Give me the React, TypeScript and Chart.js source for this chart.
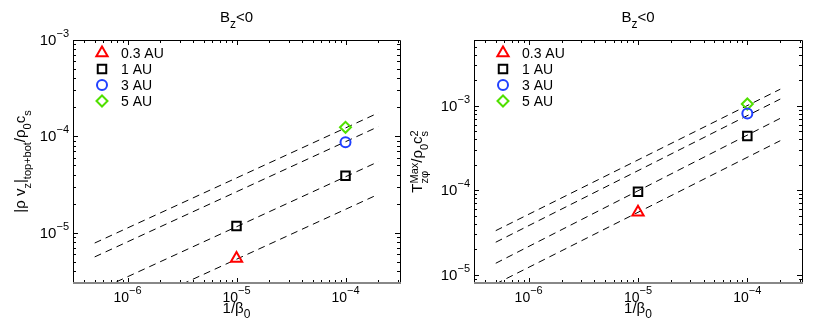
import React, { useEffect, useRef } from 'react';
import { Chart, registerables } from 'chart.js';
import { drawPoint } from 'chart.js/helpers';

Chart.register(...registerables);

const FONT = '"Liberation Sans", Arial, Helvetica, sans-serif';

// ---------- shared data ----------
const X_MIN = 3.162e-7;
const X_MAX = 3.162e-4;
const X_MAJOR = [1e-6, 1e-5, 1e-4];
const FIT_X = [5e-7, 2e-4];
const LEGEND_LABELS = ['0.3 AU', '1 AU', '3 AU', '5 AU'];
const COLORS = ['#ff0000', '#000000', '#2040ff', '#50e000'];
const STYLES = ['triangle', 'rect', 'circle', 'rectRot'];
const RADII = [6.5, 6, 5, 5.5];

// ---------- left panel data ----------
const L_Y_MIN = 3e-6;
const L_Y_MAX = 1e-3;
const L_Y_MAJOR = [1e-5, 1e-4, 1e-3];
const L_TRI_X = [1e-5];
const L_TRI_Y = [5.4e-6];
const L_SQ_X = [1e-5, 1e-4];
const L_SQ_Y = [1.17e-5, 3.9e-5];
const L_CIR_X = [1e-4];
const L_CIR_Y = [8.7e-5];
const L_DIA_X = [1e-4];
const L_DIA_Y = [1.24e-4];
const L_FIT1 = [7.8e-6, 1.75e-4];
const L_FIT2 = [5.6e-6, 1.26e-4];
const L_FIT3 = [2.43e-6, 5.45e-5];
const L_FIT4 = [1.12e-6, 2.5e-5];

// ---------- right panel data ----------
const R_Y_MIN = 8e-6;
const R_Y_MAX = 6e-3;
const R_Y_MAJOR = [1e-5, 1e-4, 1e-3];
const R_TRI_X = [1e-5];
const R_TRI_Y = [5.5e-5];
const R_SQ_X = [1e-5, 1e-4];
const R_SQ_Y = [9.6e-5, 4.4e-4];
const R_CIR_X = [1e-4];
const R_CIR_Y = [8.1e-4];
const R_DIA_X = [1e-4];
const R_DIA_Y = [1.05e-3];
const R_FIT1 = [3.33e-5, 1.57e-3];
const R_FIT2 = [2.43e-5, 1.2e-3];
const R_FIT3 = [1.37e-5, 7.1e-4];
const R_FIT4 = [7.8e-6, 3.86e-4];

type Seg = { t?: string; sub?: string; sup?: string };

const TITLE: Seg[] = [{ t: 'B' }, { sub: 'z' }, { t: '<0' }];
const X_TITLE: Seg[] = [{ t: '1/β' }, { sub: '0' }];
const L_Y_TITLE: Seg[] = [
  { t: '|ρ v' }, { sub: 'z' }, { t: '|' }, { sub: 'top+bot' }, { t: '/ρ' }, { sub: '0' }, { t: 'c' }, { sub: 's' },
];
const R_Y_TITLE: Seg[] = [
  { t: 'T' }, { sub: 'zφ', sup: 'Max' }, { t: '/ρ' }, { sub: '0' }, { t: 'c' }, { sub: 's', sup: '2' },
];

function drawRich(
  ctx: CanvasRenderingContext2D,
  segs: Seg[],
  x: number,
  y: number,
  align: 'left' | 'center' | 'right',
  main: number,
  small: number,
  subOff: number,
  supOff: number,
) {
  const mf = `${main}px ${FONT}`;
  const sf = `${small}px ${FONT}`;
  const widths: number[] = [];
  let total = 0;
  for (const s of segs) {
    let w = 0;
    if (s.t !== undefined) {
      ctx.font = mf;
      w = ctx.measureText(s.t).width;
    } else {
      ctx.font = sf;
      w = Math.max(s.sub ? ctx.measureText(s.sub).width : 0, s.sup ? ctx.measureText(s.sup).width : 0);
    }
    widths.push(w);
    total += w;
  }
  let cx = align === 'left' ? x : align === 'center' ? x - total / 2 : x - total;
  ctx.textAlign = 'left';
  ctx.textBaseline = 'alphabetic';
  segs.forEach((s, i) => {
    if (s.t !== undefined) {
      ctx.font = mf;
      ctx.fillText(s.t, cx, y);
    } else {
      ctx.font = sf;
      if (s.sub) ctx.fillText(s.sub, cx, y + subOff);
      if (s.sup) ctx.fillText(s.sup, cx, y + supOff);
    }
    cx += widths[i];
  });
}

function logTicks(min: number, max: number) {
  const out: { v: number; major: boolean }[] = [];
  for (let e = Math.floor(Math.log10(min)); e <= Math.ceil(Math.log10(max)); e++) {
    for (let m = 1; m <= 9; m++) {
      const v = m * Math.pow(10, e);
      if (v >= min * 0.999 && v <= max * 1.001) out.push({ v, major: m === 1 });
    }
  }
  return out;
}

function expLabel(v: number): Seg[] {
  const e = Math.round(Math.log10(v));
  return [{ t: '10' }, { sup: (e < 0 ? '−' : '') + Math.abs(e) }];
}

interface Panel {
  yMin: number;
  yMax: number;
  yMajor: number[];
  yTitle: Seg[];
  yTitleX: number;
  yTitleSup: number;
  padLeft: number;
  padRight: number;
  markers: { xs: number[]; ys: number[] }[];
  fits: number[][];
}

function makeDeco(p: Panel) {
  return {
    id: 'deco',
    afterDraw(chart: any) {
      const ctx: CanvasRenderingContext2D = chart.ctx;
      const a = chart.chartArea;
      const xs = chart.scales.x;
      const ys = chart.scales.y;
      ctx.save();
      // ticks (inward, all four sides)
      ctx.lineWidth = 1;
      ctx.strokeStyle = '#000';
      for (const t of logTicks(X_MIN, X_MAX)) {
        const px = Math.round(xs.getPixelForValue(t.v)) + 0.5;
        const len = t.major ? 5 : 3;
        ctx.beginPath();
        ctx.moveTo(px, a.bottom);
        ctx.lineTo(px, a.bottom - len);
        ctx.moveTo(px, a.top);
        ctx.lineTo(px, a.top + len);
        ctx.stroke();
      }
      for (const t of logTicks(p.yMin, p.yMax)) {
        const py = Math.round(ys.getPixelForValue(t.v)) + 0.5;
        const len = t.major ? 5 : 3;
        ctx.beginPath();
        ctx.moveTo(a.left, py);
        ctx.lineTo(a.left + len, py);
        ctx.moveTo(a.right, py);
        ctx.lineTo(a.right - len, py);
        ctx.stroke();
      }
      // box
      ctx.beginPath();
      ctx.moveTo(Math.round(a.left) + 0.5, Math.round(a.bottom));
      ctx.lineTo(Math.round(a.left) + 0.5, Math.round(a.top) + 0.5);
      ctx.lineTo(Math.round(a.right) + 0.5, Math.round(a.top) + 0.5);
      ctx.lineTo(Math.round(a.right) + 0.5, Math.round(a.bottom));
      ctx.stroke();
      ctx.strokeStyle = '#888';
      ctx.lineWidth = 2;
      ctx.beginPath();
      ctx.moveTo(a.left, Math.round(a.bottom));
      ctx.lineTo(a.right + 1, Math.round(a.bottom));
      ctx.stroke();

      ctx.fillStyle = '#000';
      // x tick labels
      for (const v of X_MAJOR) {
        drawRich(ctx, expLabel(v), xs.getPixelForValue(v), 302, 'center', 14, 11, 0, -8);
      }
      // y tick labels
      for (const v of p.yMajor) {
        if (v < p.yMin || v > p.yMax) continue;
        drawRich(ctx, expLabel(v), a.left - 4, ys.getPixelForValue(v) + 5, 'right', 15, 11, 0, -8);
      }
      const cxm = (a.left + a.right) / 2;
      const cym = (a.top + a.bottom) / 2;
      // title
      drawRich(ctx, TITLE, cxm, 22, 'center', 15, 12, 6, -7);
      // x title
      drawRich(ctx, X_TITLE, cxm, 313, 'center', 15, 12, 5, -7);
      // y title (rotated)
      ctx.save();
      ctx.translate(p.yTitleX, cym);
      ctx.rotate(-Math.PI / 2);
      drawRich(ctx, p.yTitle, 0, 0, 'center', 15, 11, 6, p.yTitleSup);
      ctx.restore();

      // legend
      LEGEND_LABELS.forEach((lab, i) => {
        const ly = a.top + 13 + i * 16;
        const mx = a.left + 29;
        ctx.strokeStyle = COLORS[i];
        ctx.fillStyle = 'rgba(0,0,0,0)';
        ctx.lineWidth = 2;
        drawPoint(ctx, { pointStyle: STYLES[i], rotation: 0, radius: RADII[i], borderWidth: 2 } as any, mx, ly);
        ctx.fillStyle = '#000';
        ctx.font = `14px ${FONT}`;
        ctx.textAlign = 'left';
        ctx.textBaseline = 'middle';
        ctx.fillText(lab, a.left + 48, ly + 1);
      });
      ctx.restore();
    },
  };
}

const LEFT: Panel = {
  yMin: L_Y_MIN,
  yMax: L_Y_MAX,
  yMajor: L_Y_MAJOR,
  yTitle: L_Y_TITLE,
  yTitleX: 25,
  yTitleSup: -7,
  padLeft: 73,
  padRight: 9,
  markers: [
    { xs: L_TRI_X, ys: L_TRI_Y },
    { xs: L_SQ_X, ys: L_SQ_Y },
    { xs: L_CIR_X, ys: L_CIR_Y },
    { xs: L_DIA_X, ys: L_DIA_Y },
  ],
  fits: [L_FIT1, L_FIT2, L_FIT3, L_FIT4],
};

const RIGHT: Panel = {
  yMin: R_Y_MIN,
  yMax: R_Y_MAX,
  yMajor: R_Y_MAJOR,
  yTitle: R_Y_TITLE,
  yTitleX: 13,
  yTitleSup: -4,
  padLeft: 65,
  padRight: 15,
  markers: [
    { xs: R_TRI_X, ys: R_TRI_Y },
    { xs: R_SQ_X, ys: R_SQ_Y },
    { xs: R_CIR_X, ys: R_CIR_Y },
    { xs: R_DIA_X, ys: R_DIA_Y },
  ],
  fits: [R_FIT1, R_FIT2, R_FIT3, R_FIT4],
};

function PanelChart({ panel, left, width }: { panel: Panel; left: number; width: number }) {
  const ref = useRef<HTMLCanvasElement>(null);
  useEffect(() => {
    if (!ref.current) return;
    const datasets: any[] = [];
    panel.markers.forEach((m, i) => {
      datasets.push({
        label: LEGEND_LABELS[i],
        data: m.xs.map((x, j) => ({ x, y: m.ys[j] })),
        pointStyle: STYLES[i],
        pointRadius: RADII[i],
        pointBorderWidth: 2,
        borderColor: COLORS[i],
        backgroundColor: 'rgba(0,0,0,0)',
        showLine: false,
      });
    });
    panel.fits.forEach((f, i) => {
      datasets.push({
        label: 'fit' + i,
        data: FIT_X.map((x, j) => ({ x, y: f[j] })),
        showLine: true,
        pointRadius: 0,
        borderColor: '#000',
        borderWidth: 1,
        borderDash: [7, 5],
        backgroundColor: 'rgba(0,0,0,0)',
      });
    });
    const chart = new Chart(ref.current, {
      type: 'scatter',
      data: { datasets },
      options: {
        animation: false,
        responsive: false,
        devicePixelRatio: 1,
        events: [],
        layout: { padding: { left: panel.padLeft, right: panel.padRight, top: 40, bottom: 44 } },
        scales: {
          x: { type: 'logarithmic', min: X_MIN, max: X_MAX, display: false },
          y: { type: 'logarithmic', min: panel.yMin, max: panel.yMax, display: false },
        },
        plugins: { legend: { display: false }, tooltip: { enabled: false } },
      },
      plugins: [makeDeco(panel)],
    } as any);
    return () => chart.destroy();
  }, [panel]);
  return (
    <canvas
      ref={ref}
      width={width}
      height={327}
      style={{ position: 'absolute', left, top: 0, width, height: 327, display: 'block' }}
    />
  );
}

export default function App() {
  useEffect(() => {
    document.body.style.margin = '0';
  }, []);
  return (
    <div style={{ position: 'relative', width: 817, height: 327, background: '#fff', overflow: 'hidden' }}>
      <PanelChart panel={LEFT} left={0} width={409} />
      <PanelChart panel={RIGHT} left={409} width={408} />
    </div>
  );
}
